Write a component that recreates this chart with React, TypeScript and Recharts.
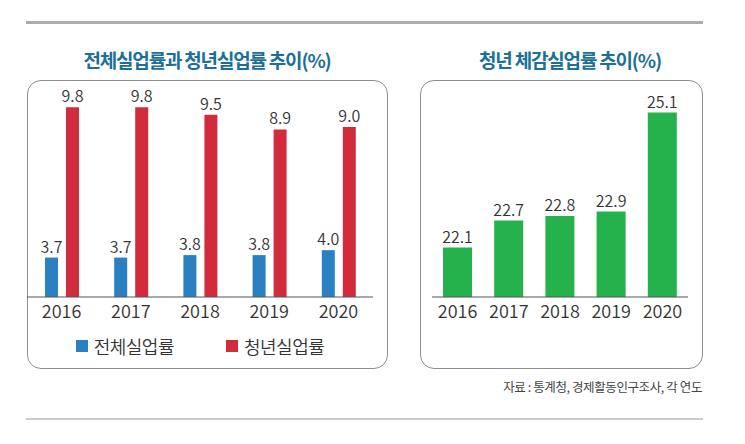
import { Bar, BarChart, LabelList, Legend, XAxis, YAxis } from "recharts";

const years = ["2016", "2017", "2018", "2019", "2020"];
const totalRate = [3.7, 3.7, 3.8, 3.8, 4.0];
const youthRate = [9.8, 9.8, 9.5, 8.9, 9.0];
const youthPerceived = [22.1, 22.7, 22.8, 22.9, 25.1];

const leftData = years.map((year, i) => ({
    year,
    total: totalRate[i],
    youth: youthRate[i],
}));

const rightData = years.map((year, i) => ({
    year,
    perceived: youthPerceived[i],
}));

const FONT = "'Noto Sans CJK KR', 'Noto Sans', sans-serif";
const BLUE = "#2a80c0";
const RED = "#d22c3c";
const GREEN = "#25b14c";
const TITLE = "#1b6f98";

const panel = {
    position: "absolute" as const,
    top: 80,
    height: 289,
    border: "1px solid #8c8c8c",
    borderRadius: 14,
    boxSizing: "border-box" as const,
};

const titleStyle = {
    position: "absolute" as const,
    top: 46,
    fontSize: 19,
    fontWeight: 700,
    color: TITLE,
    letterSpacing: -1.2,
    whiteSpace: "nowrap" as const,
    transform: "translateX(-50%)",
};

function LegendContent() {
    const items = [
        { label: "전체실업률", color: BLUE },
        { label: "청년실업률", color: RED },
    ];
    return (
        <div style={{ display: "flex", justifyContent: "center", gap: 52, marginTop: 1 }}>
            {items.map((it) => (
                <div key={it.label} style={{ display: "flex", alignItems: "center", gap: 6 }}>
                    <span style={{ width: 12, height: 12, background: it.color, display: "inline-block" }} />
                    <span style={{ fontSize: 18, fontWeight: 350, color: "#333", letterSpacing: -0.5 }}>{it.label}</span>
                </div>
            ))}
        </div>
    );
}

const labelStyle = { fontSize: 16, fontWeight: 350, fill: "#333", fontFamily: FONT };
const tickStyle = { fontSize: 18, fontWeight: 350, fill: "#333", fontFamily: FONT };

export default function App() {
    return (
        <div
            style={{
                position: "absolute",
                left: 0,
                top: 0,
                width: 745,
                height: 444,
                background: "#fff",
                fontFamily: FONT,
            }}
        >
            <div style={{ position: "absolute", left: 26, top: 21, width: 677, height: 3, background: "#a9adb1" }} />

            <div style={{ ...titleStyle, left: 207 }}>전체실업률과 청년실업률 추이(%)</div>
            <div style={{ ...titleStyle, left: 570 }}>청년 체감실업률 추이(%)</div>

            <div style={{ ...panel, left: 27, width: 361 }} />
            <div style={{ ...panel, left: 420, width: 283 }} />

            <div style={{ position: "absolute", left: 27, top: 80 }}>
                <BarChart
                    width={360}
                    height={290}
                    data={leftData}
                    margin={{ top: 10, right: 14, left: 0, bottom: 0 }}
                    barSize={13}
                    barGap={8}
                >
                    <XAxis
                        dataKey="year"
                        height={35}
                        tickLine={false}
                        axisLine={{ stroke: "#555" }}
                        tick={tickStyle}
                    />
                    <YAxis hide domain={[2.1, 10.5]} />
                    <Legend
                        verticalAlign="bottom"
                        content={<LegendContent />}
                        wrapperStyle={{ height: 38 }}
                    />
                    <Bar dataKey="total" fill={BLUE} isAnimationActive={false}>
                        <LabelList dataKey="total" position="top" offset={5} style={labelStyle} formatter={(v: any) => Number(v).toFixed(1)} />
                    </Bar>
                    <Bar dataKey="youth" fill={RED} isAnimationActive={false}>
                        <LabelList dataKey="youth" position="top" offset={5} style={labelStyle} formatter={(v: any) => Number(v).toFixed(1)} />
                    </Bar>
                </BarChart>
            </div>

            <div style={{ position: "absolute", left: 420, top: 80 }}>
                <BarChart
                    width={283}
                    height={290}
                    data={rightData}
                    margin={{ top: 10, right: 15, left: 12, bottom: 38 }}
                    barSize={29}
                >
                    <XAxis
                        dataKey="year"
                        height={35}
                        tickLine={false}
                        axisLine={{ stroke: "#555" }}
                        tick={tickStyle}
                    />
                    <YAxis hide domain={[21, 25.6]} />
                    <Bar dataKey="perceived" fill={GREEN} isAnimationActive={false}>
                        <LabelList dataKey="perceived" position="top" offset={5} style={labelStyle} formatter={(v: any) => Number(v).toFixed(1)} />
                    </Bar>
                </BarChart>
            </div>

            <div
                style={{
                    position: "absolute",
                    right: 43,
                    top: 377,
                    fontSize: 12.5,
                    color: "#444",
                    letterSpacing: -0.4,
                    whiteSpace: "nowrap",
                }}
            >
                자료 : 통계청, 경제활동인구조사, 각 연도
            </div>

            <div style={{ position: "absolute", left: 26, top: 418, width: 677, height: 1.5, background: "#c8ccd1" }} />
        </div>
    );
}
